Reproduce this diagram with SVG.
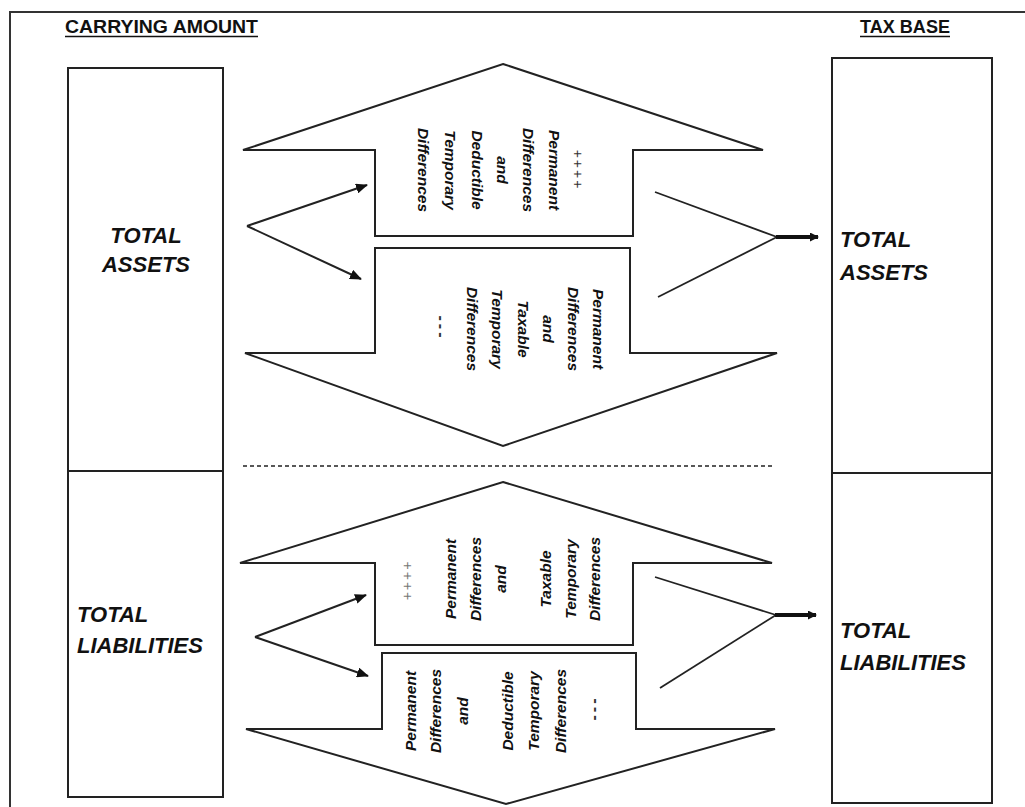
<svg xmlns="http://www.w3.org/2000/svg" width="1025" height="807" viewBox="0 0 1025 807">
<defs>
<marker id="ah" markerWidth="12" markerHeight="10" refX="11" refY="5" orient="auto" markerUnits="userSpaceOnUse">
<path d="M0,0 L12,5 L0,10 Z" fill="#111"/>
</marker>
<marker id="ahs" markerWidth="9" markerHeight="9" refX="8" refY="4.5" orient="auto" markerUnits="userSpaceOnUse">
<path d="M0,0 L9,4.5 L0,9 Z" fill="#111"/>
</marker>
<style>
.frame{fill:none;stroke:#333;stroke-width:2}
.box{fill:#fff;stroke:#222;stroke-width:2}
.shape{fill:#fff;stroke:#222;stroke-width:2;stroke-linejoin:miter}
.head{font-family:"Liberation Sans",Arial,sans-serif;font-weight:bold;font-size:17.5px;fill:#111}
.big{font-family:"Liberation Sans",Arial,sans-serif;font-weight:bold;font-style:italic;font-size:22px;fill:#111}
.rt{font-family:"Liberation Sans",Arial,sans-serif;font-weight:bold;font-style:italic;font-size:15.5px;fill:#111;text-anchor:middle;dominant-baseline:central}
.sym{font-family:"Liberation Sans",Arial,sans-serif;font-size:14px;fill:#333;text-anchor:middle;dominant-baseline:central;letter-spacing:2px}
.dsh{font-family:"Liberation Sans",Arial,sans-serif;font-weight:bold;font-size:16px;fill:#333;text-anchor:middle;dominant-baseline:central;letter-spacing:3px}
.thin{fill:none;stroke:#222;stroke-width:1.8}
.fork{fill:none;stroke:#222;stroke-width:2;marker-end:url(#ah)}
.thick{fill:none;stroke:#111;stroke-width:4;marker-end:url(#ahs)}
.dash{fill:none;stroke:#222;stroke-width:1.5;stroke-dasharray:4 3}
</style>
</defs>
<rect x="0" y="0" width="1025" height="807" fill="#fff"/>
<rect class="frame" x="10" y="12" width="1030" height="810"/>

<g id="title-carrying">
<text class="head" x="65" y="33" textLength="193" lengthAdjust="spacingAndGlyphs">CARRYING AMOUNT</text>
<line x1="65" y1="36.5" x2="258" y2="36.5" stroke="#111" stroke-width="1.5"/>
</g>
<g id="title-taxbase">
<text class="head" x="860" y="33" textLength="90" lengthAdjust="spacingAndGlyphs">TAX BASE</text>
<line x1="860" y1="36.5" x2="950" y2="36.5" stroke="#111" stroke-width="1.5"/>
</g>

<g id="left-assets">
<rect class="box" x="68" y="68" width="155" height="403"/>
<text class="big" x="146" y="243" text-anchor="middle">TOTAL</text>
<text class="big" x="146" y="272" text-anchor="middle">ASSETS</text>
</g>
<g id="left-liabilities">
<rect class="box" x="68" y="471" width="155" height="326"/>
<text class="big" x="77" y="622">TOTAL</text>
<text class="big" x="77" y="653">LIABILITIES</text>
</g>
<g id="right-assets">
<rect class="box" x="832" y="58" width="160" height="415"/>
<text class="big" x="840" y="247">TOTAL</text>
<text class="big" x="840" y="280">ASSETS</text>
</g>
<g id="right-liabilities">
<rect class="box" x="832" y="473" width="160" height="330"/>
<text class="big" x="840" y="638">TOTAL</text>
<text class="big" x="840" y="670">LIABILITIES</text>
</g>

<g id="up-arrow-assets">
<path class="shape" d="M503,64 L763,150 L633,150 L633,236 L375,236 L375,150 L243,150 Z"/>
<text class="sym" transform="translate(578,170) rotate(90)">++++</text>
<text class="rt" transform="translate(554,170) rotate(90)">Permanent</text>
<text class="rt" transform="translate(528,170) rotate(90)">Differences</text>
<text class="rt" transform="translate(502,170) rotate(90)">and</text>
<text class="rt" transform="translate(477,170) rotate(90)">Deductible</text>
<text class="rt" transform="translate(450,170) rotate(90)">Temporary</text>
<text class="rt" transform="translate(423,170) rotate(90)">Differences</text>
</g>

<g id="down-arrow-assets">
<path class="shape" d="M375,248 L630,248 L630,353 L777,353 L503,446 L245,353 L375,353 Z"/>
<text class="rt" transform="translate(598,329) rotate(90)">Permanent</text>
<text class="rt" transform="translate(573,329) rotate(90)">Differences</text>
<text class="rt" transform="translate(548,329) rotate(90)">and</text>
<text class="rt" transform="translate(523,329) rotate(90)">Taxable</text>
<text class="rt" transform="translate(497,329) rotate(90)">Temporary</text>
<text class="rt" transform="translate(472,329) rotate(90)">Differences</text>
<text class="dsh" transform="translate(441,328) rotate(90)">---</text>
</g>

<g id="up-arrow-liabilities">
<path class="shape" d="M503,482 L772,563 L633,563 L633,645 L375,645 L375,563 L240,563 Z"/>
<text class="sym" transform="translate(407,580) rotate(-90)" style="fill:#777">++++</text>
<text class="rt" transform="translate(450,579) rotate(-90)">Permanent</text>
<text class="rt" transform="translate(475,579) rotate(-90)">Differences</text>
<text class="rt" transform="translate(500,579) rotate(-90)">and</text>
<text class="rt" transform="translate(545,579) rotate(-90)">Taxable</text>
<text class="rt" transform="translate(570,579) rotate(-90)">Temporary</text>
<text class="rt" transform="translate(594,579) rotate(-90)">Differences</text>
</g>

<g id="down-arrow-liabilities">
<path class="shape" d="M382,653 L636,653 L636,729 L775,729 L506,804 L246,729 L382,729 Z"/>
<text class="rt" transform="translate(410,711) rotate(-90)">Permanent</text>
<text class="rt" transform="translate(435,711) rotate(-90)">Differences</text>
<text class="rt" transform="translate(462,711) rotate(-90)">and</text>
<text class="rt" transform="translate(507,711) rotate(-90)">Deductible</text>
<text class="rt" transform="translate(533,711) rotate(-90)">Temporary</text>
<text class="rt" transform="translate(560,711) rotate(-90)">Differences</text>
<text class="dsh" transform="translate(593,708) rotate(-90)">---</text>
</g>

<g id="connectors">
<line class="dash" x1="243" y1="466" x2="772" y2="466"/>
<line class="fork" x1="247" y1="226" x2="367" y2="185"/>
<line class="fork" x1="247" y1="226" x2="361" y2="279"/>
<line class="fork" x1="255" y1="637" x2="366" y2="595"/>
<line class="fork" x1="255" y1="637" x2="368" y2="676"/>
<line class="thin" x1="655" y1="192" x2="777" y2="237"/>
<line class="thin" x1="658" y1="297" x2="777" y2="237"/>
<line class="thick" x1="776" y1="237" x2="818" y2="237"/>
<line class="thin" x1="655" y1="577" x2="776" y2="615"/>
<line class="thin" x1="660" y1="688" x2="776" y2="615"/>
<line class="thick" x1="775" y1="615" x2="816" y2="615"/>
</g>
</svg>
